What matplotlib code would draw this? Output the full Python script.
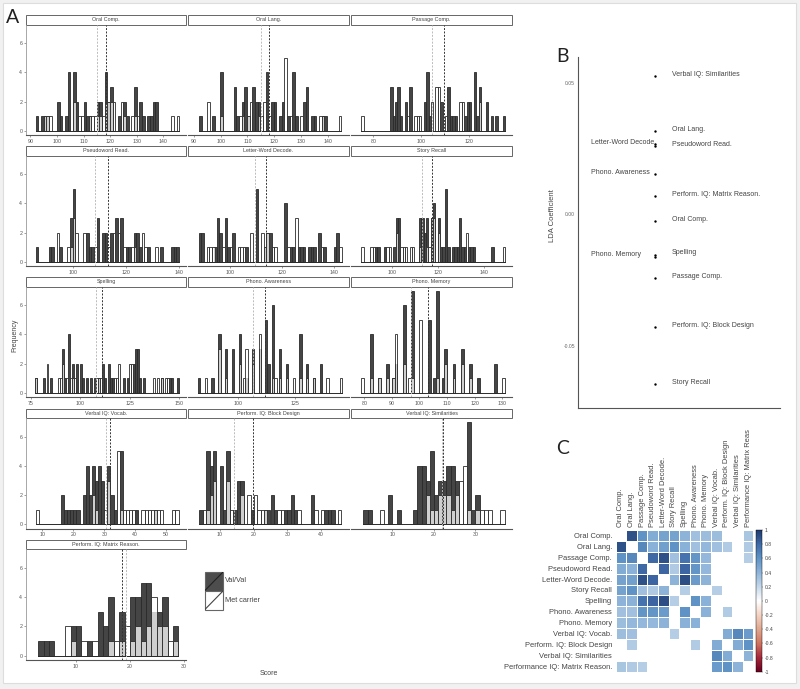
import numpy as np
import matplotlib
matplotlib.use('Agg')
import matplotlib.pyplot as plt
from matplotlib.colors import LinearSegmentedColormap
from matplotlib.patches import Rectangle

plt.rcParams['font.family'] = ['Liberation Sans', 'DejaVu Sans']

# histogram counts per panel, val = Val/Val, met = Met carrier
oral_comp_val_x = [92.5, 94.5, 95.5, 96.5, 100.5, 101.5, 103.5, 104.5, 106.5, 107.5, 110.5, 111.5, 112.5, 115.5, 116.5, 118.5, 119.5, 120.5, 123.5, 125.5, 126.5, 129.5, 131.5, 132.5, 134.5, 135.5, 136.5, 137.5]
oral_comp_val_n = [1, 1, 1, 1, 2, 1, 1, 4, 4, 2, 2, 1, 1, 2, 2, 4, 2, 3, 1, 2, 1, 3, 2, 1, 1, 1, 2, 2]
oral_comp_met_x = [95.5, 96.5, 97.5, 106.5, 108.5, 109.5, 112.5, 113.5, 114.5, 115.5, 116.5, 117.5, 118.5, 119.5, 120.5, 121.5, 124.5, 125.5, 128.5, 129.5, 130.5, 143.5, 145.5]
oral_comp_met_n = [1, 1, 1, 2, 1, 1, 1, 1, 1, 1, 1, 1, 2, 2, 2, 2, 2, 1, 1, 1, 1, 1, 1]

oral_lang_val_x = [92.4, 97.4, 100.4, 105.4, 106.4, 108.4, 109.4, 110.4, 112.4, 113.4, 114.4, 117.3, 119.3, 120.3, 122.3, 123.3, 125.3, 127.3, 128.3, 131.3, 132.3, 134.3, 135.3, 138.3, 139.3]
oral_lang_val_n = [1, 1, 4, 3, 1, 2, 3, 1, 3, 2, 2, 4, 2, 2, 1, 2, 1, 4, 1, 2, 3, 1, 1, 1, 1]
oral_lang_met_x = [95.4, 100.4, 107.4, 108.4, 110.4, 111.4, 114.4, 115.3, 116.3, 118.3, 124.3, 126.3, 130.3, 137.3, 138.3, 144.6]
oral_lang_met_n = [2, 1, 1, 1, 1, 2, 1, 1, 2, 1, 5, 1, 1, 1, 1, 1]

passage_val_x = [87.5, 88.5, 89.5, 90.5, 91.5, 93.5, 95.5, 101.5, 102.5, 103.5, 108.5, 111.4, 112.4, 113.4, 114.4, 118.4, 119.4, 120.4, 122.4, 123.4, 124.4, 127.4, 129.4, 131.4, 134.4]
passage_val_n = [3, 1, 2, 3, 1, 2, 3, 2, 4, 1, 2, 3, 1, 1, 1, 1, 2, 2, 4, 1, 3, 2, 1, 1, 1]
passage_met_x = [75.5, 94.5, 97.5, 98.5, 99.5, 104.4, 106.4, 107.4, 110.4, 116.4, 117.4, 124.4]
passage_met_n = [1, 1, 1, 1, 1, 2, 3, 3, 1, 2, 2, 2]

pseudo_val_x = [86.4, 91.4, 92.4, 95.4, 99.4, 100.4, 105.4, 106.4, 107.4, 109.4, 111.4, 112.4, 114.4, 116.4, 118.4, 120.4, 121.4, 123.4, 124.4, 125.4, 128.4, 133.4, 137.4, 138.4, 139.4]
pseudo_val_n = [1, 1, 1, 1, 3, 5, 2, 1, 1, 3, 2, 2, 2, 3, 3, 1, 1, 2, 2, 1, 1, 1, 1, 1, 1]
pseudo_met_x = [94.4, 98.4, 99.4, 100.4, 101.4, 104.4, 108.4, 113.4, 115.4, 117.4, 119.4, 122.4, 123.4, 126.4, 127.4, 131.4]
pseudo_met_n = [2, 1, 1, 3, 2, 2, 1, 1, 2, 2, 1, 1, 1, 2, 1, 1]

letter_val_x = [88.3, 89.3, 94.3, 95.3, 96.3, 98.3, 99.3, 101.3, 106.3, 110.4, 113.4, 114.5, 115.5, 121.5, 123.6, 124.6, 126.6, 127.6, 128.6, 130.6, 131.6, 132.6, 134.6, 136.6, 140.6, 141.6]
letter_val_n = [2, 2, 1, 3, 2, 3, 1, 2, 1, 5, 1, 2, 2, 4, 1, 1, 1, 1, 1, 1, 1, 1, 2, 1, 1, 2]
letter_met_x = [91.4, 92.4, 93.4, 97.3, 100.3, 103.3, 104.3, 105.3, 108.3, 112.4, 113.4, 114.5, 116.5, 117.6, 122.6, 125.6, 135.6, 142.6]
letter_met_n = [1, 1, 1, 1, 1, 1, 1, 1, 2, 2, 1, 2, 1, 1, 1, 3, 1, 1]

story_val_x = [93.3, 94.3, 97.3, 101.3, 102.3, 103.3, 112.3, 113.3, 114.4, 115.4, 117.4, 118.4, 120.4, 121.4, 122.4, 123.5, 124.5, 126.5, 127.5, 128.5, 129.5, 130.5, 131.5, 133.5, 134.5, 135.5, 143.5]
story_val_n = [1, 1, 1, 1, 3, 3, 3, 3, 2, 3, 3, 4, 3, 1, 1, 5, 1, 1, 1, 1, 3, 1, 1, 1, 1, 1, 1]
story_met_x = [87.5, 91.4, 92.4, 98.3, 99.3, 102.3, 104.3, 105.3, 106.3, 108.3, 109.3, 112.3, 115.4, 116.4, 117.4, 118.4, 120.4, 132.5, 148.5]
story_met_n = [1, 1, 1, 1, 1, 2, 1, 1, 1, 1, 1, 1, 1, 1, 3, 3, 2, 2, 1]

spelling_val_x = [77.4, 81.4, 85.4, 91.4, 92.4, 94.4, 96.4, 98.4, 100.4, 101.4, 103.4, 105.4, 107.4, 109.4, 111.4, 112.4, 114.4, 115.4, 116.4, 122.4, 124.4, 127.4, 128.4, 129.4, 130.4, 132.4, 141.4, 145.4, 146.4, 149.4]
spelling_val_n = [1, 1, 1, 3, 1, 4, 2, 2, 2, 1, 1, 1, 1, 1, 2, 1, 2, 1, 1, 1, 1, 2, 3, 3, 1, 1, 1, 1, 1, 1]
spelling_met_x = [77.4, 83.4, 89.4, 90.4, 91.4, 93.4, 95.4, 96.4, 97.4, 108.4, 109.4, 110.4, 117.4, 118.4, 119.4, 125.4, 126.4, 137.4, 139.4, 141.4, 143.4, 144.4]
spelling_met_n = [1, 2, 1, 1, 2, 1, 1, 1, 1, 1, 1, 1, 1, 1, 2, 2, 2, 1, 1, 1, 1, 1]

phono_aw_val_x = [82.6, 88.6, 91.6, 94.6, 97.6, 100.6, 103.6, 106.6, 109.6, 112.4, 113.4, 115.5, 118.5, 121.5, 127.5, 130.5, 133.5, 136.5]
phono_aw_val_n = [1, 1, 4, 3, 3, 4, 1, 3, 3, 5, 2, 6, 3, 2, 4, 2, 1, 2]
phono_aw_met_x = [85.6, 91.6, 94.6, 100.6, 102.6, 103.6, 106.6, 109.6, 115.5, 116.5, 118.5, 121.5, 124.5, 127.5, 130.5, 133.5, 139.5, 145.5]
phono_aw_met_n = [1, 3, 1, 2, 1, 3, 2, 4, 1, 1, 1, 1, 1, 1, 1, 1, 1, 1]

phono_mem_val_x = [82.5, 85.5, 88.5, 90.5, 91.5, 94.5, 97.5, 103.5, 105.5, 106.5, 108.5, 109.5, 112.5, 115.5, 118.5, 121.5, 127.5]
phono_mem_val_n = [4, 1, 2, 1, 2, 6, 7, 5, 1, 7, 1, 3, 2, 3, 2, 1, 2]
phono_mem_met_x = [79.5, 82.5, 85.5, 88.5, 90.5, 91.5, 94.5, 96.5, 97.5, 100.5, 106.5, 109.5, 112.5, 115.5, 118.5, 130.5]
phono_mem_met_n = [1, 1, 1, 1, 1, 4, 2, 1, 1, 5, 1, 2, 1, 2, 1, 1]

vocab_val_x = [16.5, 17.5, 18.5, 19.5, 20.5, 21.5, 23.5, 24.5, 25.5, 26.5, 27.5, 28.5, 29.5, 31.5, 32.5, 33.5, 35.5, 40.5, 46.5]
vocab_val_n = [2, 1, 1, 1, 1, 1, 2, 4, 2, 4, 3, 4, 3, 4, 2, 1, 5, 1, 1]
vocab_met_x = [8.5, 26.5, 27.5, 30.5, 31.5, 34.5, 35.5, 36.5, 37.5, 38.5, 39.5, 42.5, 43.5, 44.5, 45.5, 46.5, 47.5, 48.5, 52.5, 53.5]
vocab_met_n = [1, 2, 1, 1, 3, 5, 1, 1, 1, 1, 1, 1, 1, 1, 1, 1, 1, 1, 1, 1]

block_val_x = [4.4, 6.4, 7.4, 8.4, 10.4, 11.4, 12.4, 14.5, 15.5, 16.5, 19.6, 23.6, 24.4, 25.5, 26.5, 29.5, 30.5, 31.5, 32.5, 37.5, 41.5, 42.5, 43.5]
block_val_n = [1, 5, 4, 5, 4, 1, 5, 1, 3, 3, 1, 1, 1, 2, 1, 1, 1, 2, 1, 2, 1, 1, 1]
block_met_x = [5.4, 6.4, 7.4, 8.4, 12.4, 13.4, 16.5, 18.6, 20.6, 21.6, 22.6, 23.6, 27.5, 28.5, 33.5, 38.5, 40.5, 45.5]
block_met_n = [1, 1, 2, 3, 3, 1, 2, 2, 2, 1, 1, 1, 1, 1, 1, 1, 1, 1]

simil_val_x = [3.5, 4.5, 9.5, 11.5, 15.5, 16.5, 17.5, 18.5, 19.5, 20.5, 21.5, 22.5, 23.5, 24.5, 25.5, 28.5, 29.5, 30.5]
simil_val_n = [1, 1, 2, 1, 1, 4, 4, 3, 5, 2, 3, 3, 4, 4, 3, 7, 1, 2]
simil_met_x = [7.5, 18.5, 19.5, 20.5, 21.5, 22.5, 23.5, 24.5, 25.5, 26.5, 27.5, 28.5, 30.5, 31.5, 32.5, 33.5, 36.5]
simil_met_n = [1, 2, 1, 1, 2, 2, 2, 1, 2, 3, 4, 1, 1, 1, 1, 1, 1]

matrix_val_x = [3.5, 4.5, 5.5, 9.5, 10.5, 12.5, 14.5, 15.5, 16.5, 18.5, 20.5, 21.5, 22.5, 23.5, 24.5, 25.5, 26.5, 28.5]
matrix_val_n = [1, 1, 1, 2, 2, 1, 3, 2, 4, 3, 4, 4, 5, 5, 3, 3, 4, 2]
matrix_met_x = [8.5, 9.5, 11.5, 13.5, 16.5, 17.5, 18.5, 19.5, 20.5, 21.5, 22.5, 23.5, 24.5, 25.5, 26.5, 27.5, 28.5]
matrix_met_n = [2, 1, 1, 1, 1, 1, 1, 2, 1, 2, 1, 2, 4, 2, 2, 1, 1]

panel_titles = ['Oral Comp.', 'Oral Lang.', 'Passage Comp.', 'Pseudoword Read.', 'Letter-Word Decode.', 'Story Recall',
                'Spelling', 'Phono. Awareness', 'Phono. Memory', 'Verbal IQ: Vocab.', 'Perform. IQ: Block Design',
                'Verbal IQ: Similarities', 'Perform. IQ: Matrix Reason.']
val_x = [oral_comp_val_x, oral_lang_val_x, passage_val_x, pseudo_val_x, letter_val_x, story_val_x, spelling_val_x,
         phono_aw_val_x, phono_mem_val_x, vocab_val_x, block_val_x, simil_val_x, matrix_val_x]
val_n = [oral_comp_val_n, oral_lang_val_n, passage_val_n, pseudo_val_n, letter_val_n, story_val_n, spelling_val_n,
         phono_aw_val_n, phono_mem_val_n, vocab_val_n, block_val_n, simil_val_n, matrix_val_n]
met_x = [oral_comp_met_x, oral_lang_met_x, passage_met_x, pseudo_met_x, letter_met_x, story_met_x, spelling_met_x,
         phono_aw_met_x, phono_mem_met_x, vocab_met_x, block_met_x, simil_met_x, matrix_met_x]
met_n = [oral_comp_met_n, oral_lang_met_n, passage_met_n, pseudo_met_n, letter_met_n, story_met_n, spelling_met_n,
         phono_aw_met_n, phono_mem_met_n, vocab_met_n, block_met_n, simil_met_n, matrix_met_n]
val_means = [118.4, 118.2, 109.6, 113.1, 113.7, 117.4, 110.8, 111.8, 103.2, 32.0, 19.8, 22.1, 18.6]
met_means = [115.2, 115.1, 104.3, 108.4, 109.7, 113.2, 107.8, 106.6, 96.8, 30.5, 14.3, 21.9, 19.3]
panel_xlim = [(88.4, 148.5), (87.8, 148.0), (70.7, 137.8), (82.3, 142.6), (83.6, 146.0), (82.5, 151.9), (72.5, 153.6),
              (77.7, 149.0), (75.2, 133.5), (4.7, 56.4), (0.5, 48.3), (0.0, 38.8), (0.74, 30.4)]
panel_ticks = [[90, 100, 110, 120, 130, 140], [90, 100, 110, 120, 130, 140], [80, 100, 120], [100, 120, 140],
               [100, 120, 140], [100, 120, 140], [75, 100, 125, 150], [100, 125], [80, 90, 100, 110, 120, 130],
               [10, 20, 30, 40, 50], [10, 20, 30, 40], [10, 20, 30], [10, 20, 30]]

# panel B
lda_names = ['Verbal IQ: Similarities', 'Oral Lang.', 'Letter-Word Decode.', 'Pseudoword Read.', 'Phono. Awareness',
             'Perform. IQ: Matrix Reason.', 'Oral Comp.', 'Phono. Memory', 'Spelling', 'Passage Comp.',
             'Perform. IQ: Block Design', 'Story Recall']
lda_coef = [0.0527, 0.0316, 0.0267, 0.0261, 0.0153, 0.0070, -0.0025, -0.0154, -0.0162, -0.0244, -0.0431, -0.0645]
lda_left = ['Letter-Word Decode.', 'Phono. Awareness', 'Phono. Memory']

# panel C, nan = not significant
corr_rows = ['Oral Comp.', 'Oral Lang.', 'Passage Comp.', 'Pseudoword Read.', 'Letter-Word Decode.', 'Story Recall',
             'Spelling', 'Phono. Awareness', 'Phono. Memory', 'Verbal IQ: Vocab.', 'Perform. IQ: Block Design',
             'Verbal IQ: Similarities', 'Performance IQ: Matrix Reason.']
corr_cols = ['Oral Comp.', 'Oral Lang.', 'Passage Comp.', 'Pseudoword Read.', 'Letter-Word Decode.', 'Story Recall',
             'Spelling', 'Phono. Awareness', 'Phono. Memory', 'Verbal IQ: Vocab.', 'Perform. IQ: Block Design',
             'Verbal IQ: Similarities', 'Performance IQ: Matrix Reas']
n = np.nan
corr = [[n, .9, .6, .45, .5, .5, .4, .33, .35, .35, n, n, .3],
        [.9, n, .65, .42, .52, .6, .42, .33, .38, .33, .27, n, .28],
        [.6, .65, n, .8, .9, .33, .75, .58, .38, n, n, n, .25],
        [.45, .42, .8, n, .82, .28, .82, .58, .38, n, n, n, n],
        [.5, .52, .9, .82, n, .4, .92, .55, .4, n, n, n, n],
        [.5, .6, .33, .28, .4, n, .25, n, n, .25, n, n, n],
        [.4, .42, .75, .82, .92, .25, n, .6, .42, n, n, n, n],
        [.33, .33, .58, .58, .55, n, .6, n, .42, n, .27, n, n],
        [.35, .38, .38, .38, .4, n, .42, .42, n, n, n, n, n],
        [.35, .33, n, n, n, .25, n, n, n, n, .45, .65, .55],
        [n, .27, n, n, n, n, n, .27, n, .45, n, .45, .6],
        [n, n, n, n, n, n, n, n, n, .65, .45, n, .4],
        [.3, .28, .25, n, n, n, n, n, n, .55, .6, .4, n]]
cbar_ticks = [1, 0.8, 0.6, 0.4, 0.2, 0, -0.2, -0.4, -0.6, -0.8, -1]
corr_colors = ['#6a0020', '#a5293a', '#cf7560', '#dea78e', '#f3d3c3', '#ffffff',
               '#c5d8ea', '#8fb4d9', '#5f93c5', '#3f6aa6', '#1f3c6e']

W, H = 800, 689
fig = plt.figure(figsize=(W / 100, H / 100), dpi=100, facecolor='#f1f1f1')
fig.patches.append(Rectangle((3 / W, 1 - 683 / H), 793 / W, 680 / H, transform=fig.transFigure, fc='white', ec='#dddddd', lw=0.8, zorder=-5))

DARK = '#454545'
EDGE = '#2a2a2a'
AXIS = '#555555'
TEXT = '#444444'


def px_axes(x0, y0, x1, y1):
    # axes from reference pixel box
    return fig.add_axes([x0 / W, 1 - y1 / H, (x1 - x0) / W, (y1 - y0) / H])


def fig_text(x, y, s, **kw):
    fig.text(x / W, 1 - y / H, s, **kw)


cols = [(26, 186), (188, 349), (351, 512)]
rows = [(24.5, 135), (155.5, 266), (286.5, 397), (418, 528.5), (549, 660)]

for i, title in enumerate(panel_titles):
    r, c = divmod(i, 3)
    ax = px_axes(cols[c][0], rows[r][0], cols[c][1], rows[r][1])
    ax.patch.set_alpha(0)
    ax.bar(val_x[i], val_n[i], width=1, color=DARK, edgecolor=EDGE, linewidth=0.6)
    ax.bar(met_x[i], met_n[i], width=1, color=(1, 1, 1, 0.75), edgecolor=EDGE, linewidth=0.6)
    all_x = val_x[i] + met_x[i]
    ax.plot([min(all_x) - 0.5, max(all_x) + 0.5], [0, 0], color=EDGE, lw=0.7, zorder=1.5)
    ax.axvline(val_means[i], color='#333333', ls=(0, (2, 1.5)), lw=0.7)
    ax.axvline(met_means[i], color='#bbbbbb', ls=(0, (2, 1.5)), lw=0.7)
    ax.set_xlim(panel_xlim[i])
    ax.set_ylim(-0.3, 7.3)
    ax.set_xticks(panel_ticks[i])
    ax.tick_params(axis='both', labelsize=3.8, length=1.2, width=0.4, pad=1.5, colors=AXIS)
    for s in ['top', 'right']:
        ax.spines[s].set_visible(False)
    ax.spines['bottom'].set_color(AXIS)
    ax.spines['bottom'].set_linewidth(0.8)
    if c == 0:
        ax.set_yticks([0, 2, 4, 6])
        ax.spines['left'].set_color('#999999')
        ax.spines['left'].set_linewidth(0.6)
    else:
        ax.set_yticks([])
        ax.spines['left'].set_visible(False)
    strip_h = 9.3 / (rows[r][1] - rows[r][0])
    ax.add_patch(Rectangle((0, 1), 1, strip_h, transform=ax.transAxes, clip_on=False, fc='white', ec='#666666', lw=0.7))
    ax.text(0.5, 1 + strip_h / 2, title, transform=ax.transAxes, ha='center', va='center', fontsize=3.9, color=TEXT)

fig_text(15, 335, 'Frequency', rotation=90, ha='center', va='center', fontsize=5, color=TEXT)
fig_text(268.5, 673.5, 'Score', ha='center', va='center', fontsize=5, color=TEXT)

# legend keys
key = px_axes(204.7, 571.7, 223.3, 609.7)
key.set_xlim(0, 1)
key.set_ylim(0, 2)
key.axis('off')
key.add_patch(Rectangle((0, 1), 1, 1, fc='#4d4d4d', ec='#666666', lw=0.8, clip_on=False))
key.add_patch(Rectangle((0, 0), 1, 1, fc='white', ec='#666666', lw=0.8, clip_on=False))
key.plot([0, 1], [1, 2], color='#222222', lw=0.8)
key.plot([0, 1], [0, 1], color='#444444', lw=0.8)
fig_text(225, 581, 'Val/Val', ha='left', va='center', fontsize=5.3, color=TEXT)
fig_text(225, 600, 'Met carrier', ha='left', va='center', fontsize=5.3, color=TEXT)

# panel B
axb = px_axes(577.7, 57, 780, 408)
axb.patch.set_alpha(0)
axb.set_xlim(0, 1)
axb.set_ylim(-0.0738, 0.0599)
axb.scatter([0.384] * len(lda_coef), lda_coef, s=3, color='black', lw=0)
for name, v in zip(lda_names, lda_coef):
    if name in lda_left:
        dx = -46.5
    else:
        dx = 11.8
    dy = 3 if name == 'Spelling' else 1.1
    if name == 'Phono. Memory':
        dy = 0
    axb.annotate(name, (0.384, v), xytext=(dx, dy), textcoords='offset points', ha='left', va='center', fontsize=5, color=TEXT)
axb.set_xticks([])
axb.set_yticks([-0.05, 0, 0.05])
axb.set_yticklabels(['-0.05', '0.00', '0.05'])
axb.tick_params(axis='y', labelsize=3.6, length=0, pad=2, colors='#666666')
for s in ['top', 'right']:
    axb.spines[s].set_visible(False)
axb.spines['left'].set_color(AXIS)
axb.spines['bottom'].set_color(AXIS)
axb.spines['left'].set_linewidth(0.8)
axb.spines['bottom'].set_linewidth(0.8)
fig_text(552, 215.7, 'LDA Coefficient', rotation=90, ha='center', va='center', fontsize=5.5, color=TEXT)

# panel C
axc = px_axes(615.7, 530, 753.3, 671.7)
corr_cmap = LinearSegmentedColormap.from_list('corr', corr_colors)
mesh = axc.pcolormesh(np.array(corr), cmap=corr_cmap, vmin=-1, vmax=1, edgecolors='white', linewidth=0.4)
axc.invert_yaxis()
axc.xaxis.tick_top()
axc.set_xticks(np.arange(13) + 0.5)
axc.set_xticklabels(corr_cols, rotation=90, ha='center', va='bottom', fontsize=5.4, color=TEXT)
axc.set_yticks(np.arange(13) + 0.5)
axc.set_yticklabels(corr_rows, fontsize=5.4, color=TEXT)
axc.tick_params(length=0, pad=2.5)
for s in axc.spines.values():
    s.set_visible(False)
cax = px_axes(756, 530, 761.7, 671.7)
cb = fig.colorbar(mesh, cax=cax, ticks=cbar_ticks)
cb.ax.set_yticklabels([str(t) for t in cbar_ticks])
cb.ax.tick_params(labelsize=3.6, length=1, width=0.3, pad=1, colors=TEXT)
cb.outline.set_linewidth(0.3)

fig_text(13, 17.5, 'A', ha='center', va='center', fontsize=14, family='Lato', color='#222222')
fig_text(563, 56, 'B', ha='center', va='center', fontsize=14, family='Lato', color='#222222')
fig_text(562.7, 448, 'C', ha='center', va='center', fontsize=14, family='Lato', color='#222222')

fig.savefig('out.png', dpi=100, facecolor=fig.get_facecolor())
